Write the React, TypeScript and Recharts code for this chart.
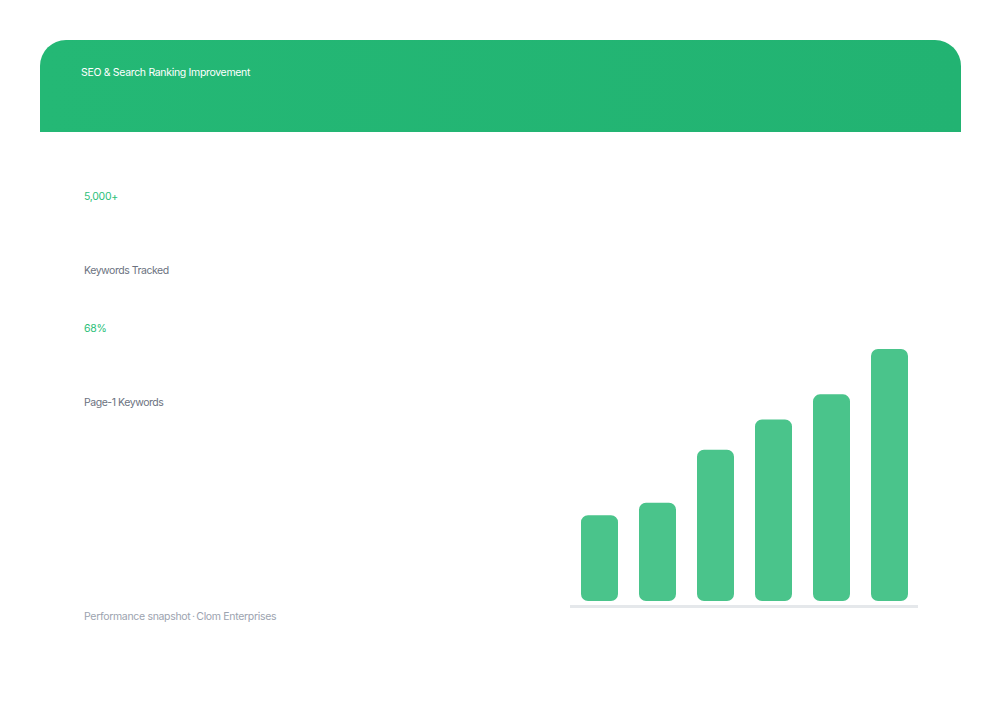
import React from "react";
import { BarChart, Bar, XAxis, YAxis, ReferenceLine } from "recharts";

const categories = ["M1", "M2", "M3", "M4", "M5", "M6"];
const rankingValues = [34, 39, 60, 72, 82, 100];
const statValues = ["5,000+", "68%"];
const statLabels = ["Keywords Tracked", "Page-1 Keywords"];
const title = "SEO & Search Ranking Improvement";
const footer = "Performance snapshot\u2009·\u2009Clom Enterprises";

const data = categories.map((c, i) => ({ name: c, value: rankingValues[i] }));

const FONT = "Inter, Roboto, 'Noto Sans', sans-serif";

export default function App() {
  return (
    <div
      style={{
        position: "fixed",
        left: 0,
        top: 0,
        width: 1000,
        height: 720,
        background: "#ffffff",
        fontFamily: FONT,
        overflow: "hidden",
      }}
    >
      <div
        style={{
          position: "absolute",
          left: 40,
          top: 40,
          width: 921,
          height: 92,
          borderTopLeftRadius: 26,
          borderTopRightRadius: 26,
          background: "linear-gradient(90deg, #24b875 0%, #22b372 100%)",
        }}
      />
      <div
        style={{
          position: "absolute",
          left: 81,
          top: 65,
          fontSize: 10.5,
          lineHeight: "16px",
          color: "#ffffff",
          letterSpacing: -0.32,
        }}
      >
        {title}
      </div>

      {statValues.map((v, i) => (
        <React.Fragment key={v}>
          <div
            style={{
              position: "absolute",
              left: 84,
              top: 189 + i * 132,
              fontSize: 10.5,
              lineHeight: "16px",
              color: "#2cc07a",
              letterSpacing: -0.3,
            }}
          >
            {v}
          </div>
          <div
            style={{
              position: "absolute",
              left: 84,
              top: 263 + i * 132,
              fontSize: 10.5,
              lineHeight: "16px",
              color: "#6b7280",
              letterSpacing: -0.45,
            }}
          >
            {statLabels[i]}
          </div>
        </React.Fragment>
      ))}

      <div
        style={{
          position: "absolute",
          left: 84,
          top: 609,
          fontSize: 10.5,
          lineHeight: "16px",
          color: "#9ca3af",
          letterSpacing: -0.32,
        }}
      >
        {footer}
      </div>

      <div style={{ position: "absolute", left: 560, top: 330 }}>
        <BarChart
          width={380}
          height={290}
          data={data}
          margin={{ top: 19, right: 22, bottom: 13, left: 10 }}
          barCategoryGap={10.5}
        >
          <XAxis dataKey="name" hide />
          <YAxis hide domain={[-2.4, 100]} />
          <ReferenceLine y={-2.2} stroke="#e5e8eb" strokeWidth={3} />
          <Bar
            dataKey="value"
            fill="#4ac48b"
            barSize={37}
            radius={[7, 7, 7, 7]}
            isAnimationActive={false}
          />
        </BarChart>
      </div>
    </div>
  );
}
